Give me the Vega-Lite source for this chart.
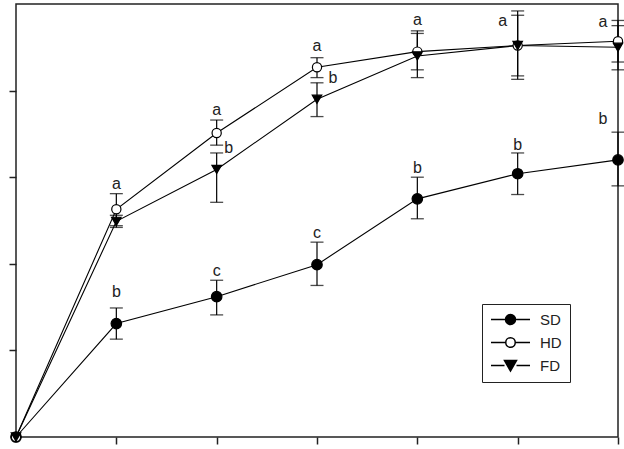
{
  "$schema": "https://vega.github.io/schema/vega-lite/v6.json",
  "width": 602,
  "height": 433,
  "autosize": "none",
  "padding": {"left": 16, "top": 4, "right": 6, "bottom": 12},
  "config": {
    "view": {"stroke": "#222222", "strokeWidth": 1.5},
    "font": "Liberation Sans",
    "axis": {"labels": false, "domain": false, "grid": false, "title": null, "tickSize": 7, "tickColor": "#222222", "tickWidth": 1.5}
  },
  "datasets": {
    "pts": [
      {"series": "SD", "day": 0, "v": 0, "lo": null, "hi": null},
      {"series": "SD", "day": 1, "v": 1.31, "lo": 1.13, "hi": 1.49},
      {"series": "SD", "day": 2, "v": 1.62, "lo": 1.41, "hi": 1.81},
      {"series": "SD", "day": 3, "v": 1.99, "lo": 1.75, "hi": 2.25},
      {"series": "SD", "day": 4, "v": 2.75, "lo": 2.52, "hi": 3.0},
      {"series": "SD", "day": 5, "v": 3.04, "lo": 2.8, "hi": 3.28},
      {"series": "SD", "day": 6, "v": 3.2, "lo": 2.9, "hi": 3.52},
      {"series": "HD", "day": 0, "v": 0, "lo": null, "hi": null},
      {"series": "HD", "day": 1, "v": 2.63, "lo": 2.44, "hi": 2.81},
      {"series": "HD", "day": 2, "v": 3.51, "lo": 3.37, "hi": 3.66},
      {"series": "HD", "day": 3, "v": 4.27, "lo": 4.15, "hi": 4.38},
      {"series": "HD", "day": 4, "v": 4.45, "lo": 4.24, "hi": 4.66},
      {"series": "HD", "day": 5, "v": 4.52, "lo": 4.17, "hi": 4.87},
      {"series": "HD", "day": 6, "v": 4.57, "lo": 4.33, "hi": 4.81},
      {"series": "FD", "day": 0, "v": 0, "lo": null, "hi": null},
      {"series": "FD", "day": 1, "v": 2.49, "lo": 2.42, "hi": 2.56},
      {"series": "FD", "day": 2, "v": 3.09, "lo": 2.71, "hi": 3.28},
      {"series": "FD", "day": 3, "v": 3.9, "lo": 3.7, "hi": 4.09},
      {"series": "FD", "day": 4, "v": 4.4, "lo": 4.15, "hi": 4.69},
      {"series": "FD", "day": 5, "v": 4.52, "lo": 4.13, "hi": 4.92},
      {"series": "FD", "day": 6, "v": 4.5, "lo": 4.24, "hi": 4.75}
    ],
    "labels": [
      {"x": 1, "y": 1.68, "t": "b"},
      {"x": 2, "y": 1.92, "t": "c"},
      {"x": 3, "y": 2.36, "t": "c"},
      {"x": 4, "y": 3.11, "t": "b"},
      {"x": 5, "y": 3.37, "t": "b"},
      {"x": 5.85, "y": 3.67, "t": "b"},
      {"x": 1, "y": 2.92, "t": "a"},
      {"x": 2, "y": 3.78, "t": "a"},
      {"x": 3, "y": 4.51, "t": "a"},
      {"x": 4, "y": 4.81, "t": "a"},
      {"x": 4.85, "y": 4.8, "t": "a"},
      {"x": 5.85, "y": 4.79, "t": "a"},
      {"x": 2.12, "y": 3.34, "t": "b"},
      {"x": 3.16, "y": 4.14, "t": "b"}
    ]
  },
  "layer": [
    {
      "data": {"name": "pts"},
      "mark": {"type": "line", "color": "black", "strokeWidth": 1.1},
      "encoding": {
        "x": {"field": "day", "type": "quantitative", "scale": {"domain": [0, 6], "nice": false}, "axis": {"values": [1, 2, 3, 4, 5, 6]}},
        "y": {"field": "v", "type": "quantitative", "scale": {"domain": [0, 5], "nice": false}, "axis": {"values": [1, 2, 3, 4]}},
        "detail": {"field": "series"},
        "order": {"field": "day"}
      }
    },
    {
      "data": {"name": "pts"},
      "transform": [{"filter": "datum.lo != null"}],
      "mark": {"type": "rule", "color": "black", "strokeWidth": 1.2},
      "encoding": {
        "x": {"field": "day", "type": "quantitative"},
        "y": {"field": "lo", "type": "quantitative"},
        "y2": {"field": "hi"}
      }
    },
    {
      "data": {"name": "pts"},
      "transform": [{"filter": "datum.lo != null"}],
      "mark": {"type": "tick", "orient": "horizontal", "color": "black", "size": 13, "thickness": 1.3},
      "encoding": {
        "x": {"field": "day", "type": "quantitative"},
        "y": {"field": "lo", "type": "quantitative"}
      }
    },
    {
      "data": {"name": "pts"},
      "transform": [{"filter": "datum.lo != null"}],
      "mark": {"type": "tick", "orient": "horizontal", "color": "black", "size": 13, "thickness": 1.3},
      "encoding": {
        "x": {"field": "day", "type": "quantitative"},
        "y": {"field": "hi", "type": "quantitative"}
      }
    },
    {
      "data": {"name": "pts"},
      "transform": [{"filter": "datum.series == 'SD'"}],
      "mark": {"type": "point", "shape": "circle", "filled": true, "fill": "black", "stroke": "black", "strokeWidth": 1.2, "opacity": 1, "size": 110},
      "encoding": {
        "x": {"field": "day", "type": "quantitative"},
        "y": {"field": "v", "type": "quantitative"}
      }
    },
    {
      "data": {"name": "pts"},
      "transform": [{"filter": "datum.series == 'HD'"}],
      "mark": {"type": "point", "shape": "circle", "filled": true, "fill": "white", "stroke": "black", "strokeWidth": 1.2, "opacity": 1, "size": 85},
      "encoding": {
        "x": {"field": "day", "type": "quantitative"},
        "y": {"field": "v", "type": "quantitative"}
      }
    },
    {
      "data": {"name": "pts"},
      "transform": [{"filter": "datum.series == 'FD'"}],
      "mark": {"type": "point", "shape": "triangle-down", "filled": true, "fill": "black", "stroke": "black", "strokeWidth": 1.2, "opacity": 1, "size": 90},
      "encoding": {
        "x": {"field": "day", "type": "quantitative"},
        "y": {"field": "v", "type": "quantitative"}
      }
    },
    {
      "data": {"name": "pts"},
      "transform": [{"filter": "false"}],
      "mark": {"type": "point", "filled": true, "stroke": "black", "strokeWidth": 1.2, "opacity": 1},
      "encoding": {
        "x": {"field": "day", "type": "quantitative"},
        "y": {"field": "v", "type": "quantitative"},
        "shape": {
          "field": "series", "type": "nominal",
          "scale": {"domain": ["SD", "HD", "FD"], "range": [
            "M-1.3,0L1.6,0M3.6,0L6.5,0M1.6,0A1,1,0,1,1,3.6,0A1,1,0,1,1,1.6,0Z",
            "M-1.3,0L1.65,0M3.55,0L6.5,0M1.65,0A0.95,0.95,0,1,1,3.55,0A0.95,0.95,0,1,1,1.65,0Z",
            "M-1.3,0L1.4,0M3.8,0L6.5,0M1.4,-1L3.8,-1L2.6,1.1Z"
          ]},
          "legend": {
            "title": null,
            "orient": "none",
            "legendX": 466,
            "legendY": 300,
            "strokeColor": "#222222",
            "fillColor": "white",
            "padding": 8,
            "symbolSize": 100,
            "labelFontSize": 15,
            "labelFont": "Liberation Sans",
            "labelColor": "#222222",
            "labelOffset": 35,
            "rowPadding": 6,
            "encode": {
              "symbols": {
                "stroke": {"value": "black"},
                "strokeWidth": {"value": 1.2}
              }
            }
          }
        },
        "fill": {
          "field": "series", "type": "nominal",
          "scale": {"domain": ["SD", "HD", "FD"], "range": ["black", "white", "black"]},
          "legend": null
        }
      }
    },
    {
      "data": {"name": "labels"},
      "mark": {"type": "text", "fontSize": 16, "font": "Liberation Sans", "color": "#222222", "baseline": "middle", "align": "center"},
      "encoding": {
        "x": {"field": "x", "type": "quantitative"},
        "y": {"field": "y", "type": "quantitative"},
        "text": {"field": "t"}
      }
    }
  ]
}
